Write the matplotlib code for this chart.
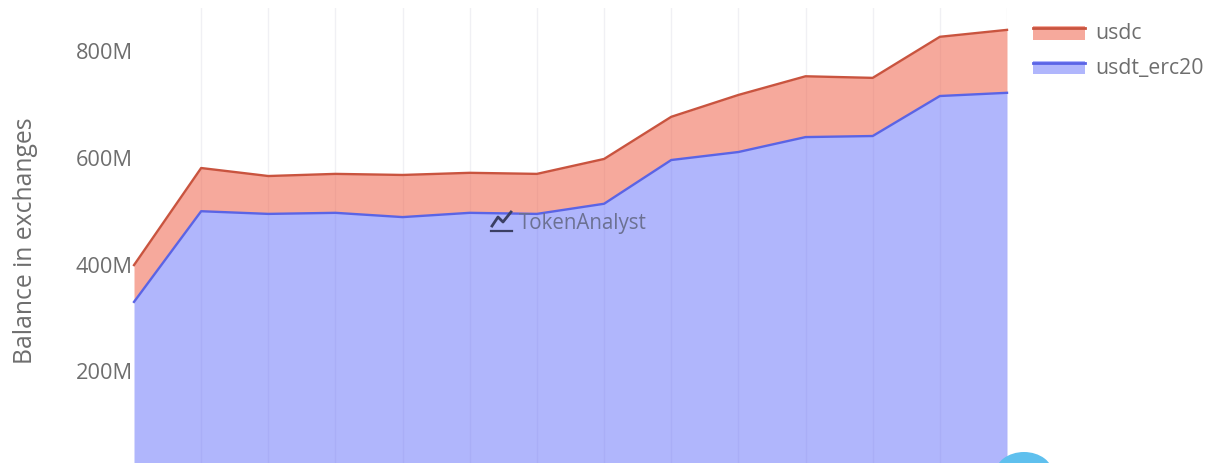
import matplotlib
matplotlib.use('Agg')
import matplotlib.pyplot as plt
from matplotlib.legend_handler import HandlerBase
from matplotlib.lines import Line2D
from matplotlib.patches import Ellipse, Rectangle

# monthly points, the x axis labels are cut off in the picture
months = list(range(14))
usdt_erc20 = [330, 500, 495, 497, 489, 497, 495, 514, 596, 611, 639, 641, 716, 722]
usdc = [69, 81, 71, 73, 79, 75, 75, 84, 81, 107, 114, 109, 111, 118]
y_ticks = [200, 400, 600, 800]
y_tick_labels = ['200M', '400M', '600M', '800M']

BLUE = '#636efa'
BLUE_LINE = '#5a64e6'
RED = '#ef553b'
RED_LINE = '#c9543f'
GREY = '#6e6e6e'
W, H = 1217, 463

plt.rcParams['font.family'] = ['Open Sans', 'DejaVu Sans']


class StackHandler(HandlerBase):
    # legend key: filled box with the darker line along the top
    def create_artists(self, legend, orig, x, y, w, h, fontsize, trans):
        box = Rectangle((x, y), w, h, facecolor=orig.get_facecolor(), edgecolor='none', transform=trans)
        top = Line2D([x, x + w], [y + h - 1.5, y + h - 1.5], color=orig.line_color, lw=2, transform=trans)
        return [box, top]


fig = plt.figure(figsize=(W / 100, H / 100), dpi=100)
ax = fig.add_axes([134 / W, 0, (1007 - 134) / W, 1 - 8 / H])

total = [a + b for a, b in zip(usdt_erc20, usdc)]
blue_fill = ax.fill_between(months, 0, usdt_erc20, color=BLUE, alpha=0.5, lw=0, zorder=2)
red_fill = ax.fill_between(months, usdt_erc20, total, color=RED, alpha=0.5, lw=0, zorder=2)
ax.plot(months, usdt_erc20, color=BLUE_LINE, lw=1.7, zorder=3, clip_on=False, solid_joinstyle='round')
ax.plot(months, total, color=RED_LINE, lw=1.7, zorder=3, clip_on=False, solid_joinstyle='round')

ax.set_xlim(months[0], months[-1])
ax.set_ylim(28, 881)
ax.set_xticks(months[1:])
ax.set_xticklabels([])
ax.set_yticks(y_ticks)
ax.set_yticklabels(y_tick_labels, color=GREY, fontsize=15.7)
ax.tick_params(length=0, pad=1)
ax.grid(axis='x', color='#f0f0f4', lw=1, zorder=1)
ax.set_axisbelow(True)
for s in ax.spines.values():
    s.set_visible(False)

fig.text(26 / W, 1 - 241 / H, 'Balance in exchanges', rotation=90, color=GREY,
         fontsize=17.8, ha='center', va='center')

# legend in the plotly order, usdc first
red_fill.line_color = RED_LINE
blue_fill.line_color = BLUE_LINE
leg = fig.legend([red_fill, blue_fill], ['usdc', 'usdt_erc20'],
                 handler_map={red_fill: StackHandler(), blue_fill: StackHandler()},
                 loc='upper left', bbox_to_anchor=(1033 / W, 1 - 23 / H), frameon=False,
                 fontsize=15.3, labelcolor=GREY, handlelength=2.45, handleheight=0.61,
                 handletextpad=0.5, labelspacing=0.64, borderpad=0, borderaxespad=0)

# watermark
fig.text(519 / W, 1 - 223 / H, 'TokenAnalyst', color='#6c7192', fontsize=14.8, ha='left', va='center', zorder=6)
fig.add_artist(Line2D([491 / W, 512 / W], [1 - 231 / H] * 2, color='#3b3f63', lw=1.6))
fig.add_artist(Line2D([492 / W, 498 / W, 503 / W, 511 / W],
                      [1 - 226 / H, 1 - 217 / H, 1 - 222 / H, 1 - 212 / H], color='#3b3f63', lw=2))

# bit of a blue logo cut off by the bottom edge
fig.add_artist(Ellipse((1024 / W, 1 - 474 / H), 58 / W, 44 / H, color='#5fc0ee', lw=0))

fig.savefig('out.png', dpi=100)
